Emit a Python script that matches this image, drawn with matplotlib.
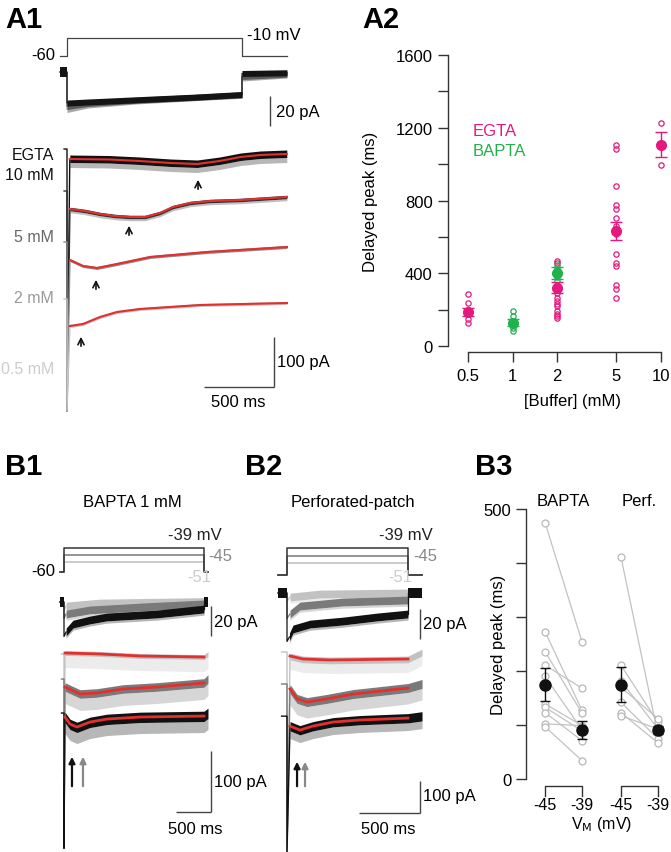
import numpy as np
import matplotlib
matplotlib.use('Agg')
import matplotlib.pyplot as plt

plt.rcParams['font.family'] = ['Liberation Sans', 'DejaVu Sans']
plt.rcParams['font.size'] = 12
plt.rcParams['axes.unicode_minus'] = False

# ---------------- data ----------------
# A1 voltage protocol (mV, ms)
a1_hold_mv = -60
a1_step_mv = -10
a1_step_ms = 1250

# A1 top: raw currents during the step (pA from holding)
a1_raw_t = [0, 150, 500, 900, 1250]
a1_raw_black = [-20.7, -20.0, -18.5, -16.8, -15.0]
a1_raw_gray = [-23.0, -21.0, -18.8, -17.0, -15.2]
a1_raw_light = [-25.0, -22.0, -19.3, -17.2, -15.5]
a1_tail_t = [1250, 1571]
a1_tail_black = [-1.0, -0.5]
a1_tail_gray = [-3.0, -1.5]
a1_tail_light = [-4.0, -2.0]

# A1 bottom: fitted currents (pA, relative to onset) for each EGTA concentration
egta10_t = [20, 300, 520, 740, 930, 1090, 1240, 1380, 1570]
egta10_fit = [0, -1, -4, -8, -10, -4, 4, 8, 10]
egta5_t = [21, 129, 236, 343, 450, 557, 664, 757, 879, 1021, 1236, 1571]
egta5_fit = [0, -4, -10, -14, -16, -16, -8, 4, 12, 16, 18, 24]
egta2_t = [21, 114, 214, 357, 593, 1000, 1571]
egta2_fit = [0, -12, -16, -8, 6, 16, 26]
egta05_t = [21, 114, 236, 357, 521, 950, 1571]
egta05_fit = [0, 4, 18, 28, 34, 42, 46]
egta_labels = ['10 mM', '5 mM', '2 mM', '0.5 mM']
egta_hold = [20, 36, 36, 54]          # holding level before the step
egta_cap = [-504, -404, -302, -170]   # capacitive transient peak
egta_peak_ms = [936, 443, 207, 100]   # delayed peak (arrows)

# A2: delayed peak vs buffer concentration
egta_conc = [0.5, 2, 5, 10]
egta_mean = [187, 321, 633, 1107]
egta_sem = [20, 30, 50, 67]
egta05_pts = [284, 235, 190, 175, 150, 128]
egta2_pts = [468, 455, 294, 266, 248, 230, 220, 193, 175, 165, 156]
egta5_pts = [1105, 1083, 881, 774, 752, 706, 660, 615, 505, 459, 440, 334, 312, 266]
egta10_pts = [1226, 996]
bapta_conc = [1, 2]
bapta_mean = [128, 400]
bapta_sem = [18, 32]
bapta1_pts = [193, 165, 138, 119, 101, 83]
bapta2_pts = [445, 425, 405, 380, 360]

# B1/B2 step potentials
b_steps_mv = [-39, -45, -51]
b1_step_ms = 2000
b2_step_ms = 1000

# B1 top: raw currents (pA)
b1_black_t = [30, 130, 370, 610, 1330, 2000]
b1_black = [-20, -14.7, -12, -10, -8, -4.7]
b1_gray_t = [30, 370, 1230, 2000]
b1_gray = [-8, -5.3, -3, -1.3]
b1_light_t = [30, 510, 2000]
b1_light = [-2.7, -0.7, 0.3]

# B1 bottom: fits (pA relative to onset), light (-51), gray (-45), black (-39)
b1_fit51_t = [14, 514, 1086, 2000]
b1_fit51 = [0, -1.6, -4.9, -6.6]
b1_fit45_t = [14, 229, 471, 843, 1329, 2000]
b1_fit45 = [0, -11.5, -9.8, -3.3, 0, 6.6]
b1_fit39_t = [14, 86, 186, 371, 614, 1086, 2000]
b1_fit39 = [0, -11.5, -16.4, -8.2, -3.3, 0, 1.6]
b1_hold = [-1.6, 13, 6.6]
b1_cap = [-320, -265, -215]
b1_peak_ms = [114, 271]

# B2 top: raw currents (pA)
b2_black_t = [20, 50, 190, 463, 744, 1000]
b2_black = [-29.3, -24, -20.7, -18.7, -16, -14]
b2_gray_t = [25, 107, 463, 1000]
b2_gray = [-14, -8.7, -6, -4.7]
b2_light_t = [25, 273, 1000]
b2_light = [-2.7, -0.7, 0]

# B2 bottom: fits
b2_fit51_t = [25, 132, 355, 1000]
b2_fit51 = [0, -9.4, -12.5, -9.4]
b2_fit45_t = [25, 83, 165, 331, 545, 1000]
b2_fit45 = [0, -31, -41, -31, -16, 3]
b2_fit39_t = [25, 107, 215, 380, 603, 1000]
b2_fit39 = [0, -12.5, 0, 12.5, 19, 25]
b2_hold = [12.5, 15.6, 31]
b2_cap = [-612, -509, -394]
b2_peak_ms = [83, 149]

# B3: paired delayed peaks (ms) at -45 and -39 mV
bapta_m45 = [475, 273, 236, 211, 190, 139, 133, 123, 102, 97]
bapta_m39 = [254, 127, 122, 168, 91, 99, 89, 71, 99, 34]
perf_m45 = [412, 211, 182, 170, 142, 123, 117]
perf_m39 = [83, 105, 93, 112, 75, 67, 93]
b3_mean_bapta = [175, 91]
b3_sem_bapta = [30, 16]
b3_mean_perf = [175, 91]
b3_sem_perf = [33, 8]

# ---------------- styles ----------------
EGTA_C = '#e5197d'
BAPTA_C = '#20b14c'
FIT_C = '#e2302f'
BAR_C = '#444444'
TRACE_C = ['#c2c2c2', '#7a7a7a', '#111111']   # -51, -45, -39
VCMD_C = ['#bdbdbd', '#777777', '#333333']

W, H = 671, 853
fig = plt.figure(figsize=(W / 100, H / 100), dpi=100)


def px_axes(box, x_px, x_val, x_scale, y_px, y_val, y_scale):
    # invisible axes over a pixel box; scales are pixels per data unit
    left, top, right, bottom = box
    ax = fig.add_axes([left / W, 1 - bottom / H, (right - left) / W, (bottom - top) / H])
    ax.set_xlim(x_val + (left - x_px) / x_scale, x_val + (right - x_px) / x_scale)
    ax.set_ylim(y_val - (bottom - y_px) / y_scale, y_val - (top - y_px) / y_scale)
    ax.set_axis_off()
    ax.patch.set_visible(False)
    return ax


def ftext(x, y, s, **kw):
    kw.setdefault('va', 'center')
    fig.text(x / W, 1 - y / H, s, **kw)


def band(ax, t, y, up, down, color, spike=0, z=2, off=0):
    y = np.asarray(y, float) + off
    ax.fill_between(t, y - down, y + up, color=color, lw=0, zorder=z)
    if spike:
        ax.fill_between(t, y - down - spike, y - down, color=color, alpha=0.3, lw=0, zorder=z)


def vbar(ax, x, y0, y1):
    ax.plot([x, x], [y0, y1], color=BAR_C, lw=1.0, solid_capstyle='butt')


# panel letters
for lab, x, y in [('A1', 5, 20), ('A2', 362, 20), ('B1', 5, 467), ('B2', 245, 467), ('B3', 475, 467)]:
    ftext(x, y, lab, fontsize=21, fontweight='bold')

# ================= A1 =================
axv = px_axes((40, 28, 300, 66), 67, 0, 0.14, 57, -60, 0.36)
axv.plot([-50, 0, 0, a1_step_ms, a1_step_ms, 1571],
         [a1_hold_mv, a1_hold_mv, a1_step_mv, a1_step_mv, a1_hold_mv, a1_hold_mv],
         color='#444444', lw=0.9)
ftext(55, 56, '-60', ha='right')
ftext(247, 35, '-10 mV', ha='left')

axi = px_axes((40, 60, 300, 140), 67, 0, 0.14, 73, 0, 1.5)
for raw, tail, c in [(a1_raw_light, a1_tail_light, '#a8a8a8'),
                     (a1_raw_gray, a1_tail_gray, '#5a5a5a'),
                     (a1_raw_black, a1_tail_black, '#141414')]:
    axi.plot([-50, 0] + a1_raw_t + a1_tail_t, [0, 0] + raw + tail, color=c, lw=0.8)
    band(axi, a1_raw_t, raw, 2.0, 2.0, c)
    band(axi, a1_tail_t, tail, 2.0, 2.0, c)
band(axi, [-50, 0], [0, 0], 3.3, 3.3, '#141414')
vbar(axi, 1450, -16, -36)
ftext(276, 113, '20 pA', ha='left')

axl = px_axes((40, 140, 300, 418), 67, 0, 0.14, 160, 0, 0.5)
a1_t = [egta10_t, egta5_t, egta2_t, egta05_t]
a1_fit = [egta10_fit, egta5_fit, egta2_fit, egta05_fit]
a1_off = [0, -100, -202, -334]
a1_col = ['#111111', '#333333', '#8a8a8a', '#c4c4c4']
a1_lab_col = ['#111111', '#666666', '#9a9a9a', '#cccccc']
a1_noise = [(8, 7, 10), (3.5, 3.5, 4), (3, 3, 0), (3, 3, 0)]
for i in range(4):
    o = a1_off[i]
    axl.plot([-21, 0, 0, a1_t[i][0]], [egta_hold[i] + o, egta_hold[i] + o, egta_cap[i] + o, o],
             color=a1_col[i], lw=1.0, zorder=1 + i * 0.1)
for i in range(4):
    up, dn, sp = a1_noise[i]
    band(axl, a1_t[i], a1_fit[i], up, dn, a1_col[i], spike=sp, z=2, off=a1_off[i])
    axl.plot(a1_t[i], np.asarray(a1_fit[i]) + a1_off[i], color=FIT_C, lw=1.5, zorder=3)
a1_arrow_tip = [-36, -128, -236, -350]
for i in range(4):
    axl.annotate('', xy=(egta_peak_ms[i], a1_arrow_tip[i]), xytext=(egta_peak_ms[i], a1_arrow_tip[i] - 30),
                 arrowprops=dict(arrowstyle='->', color='#111111', lw=1.2, mutation_scale=11))
vbar(axl, 1479, -356, -456)
axl.plot([979, 1479], [-456, -456], color=BAR_C, lw=1.0, solid_capstyle='butt')
ftext(277, 362, '100 pA', ha='left')
ftext(238, 403, '500 ms', ha='center')
ftext(54, 156, 'EGTA', ha='right', color=a1_lab_col[0], fontsize=11.5)
for lab, y, c in zip(egta_labels, [176, 237, 299, 370], a1_lab_col):
    ftext(54, y, lab, ha='right', color=c, fontsize=11.5)

# ================= A2 =================
ax2 = fig.add_axes([448 / W, 1 - 347 / H, (667 - 448) / W, (347 - 56) / H])
ax2.patch.set_visible(False)
ax2.set_xscale('log')
ax2.set_xlim(0.366, 11)
ax2.set_ylim(0, 1600)
for c, pts in zip(egta_conc, [egta05_pts, egta2_pts, egta5_pts, egta10_pts]):
    ax2.plot([c] * len(pts), pts, 'o', ms=3.8, mfc='none', mec=EGTA_C, mew=0.9, clip_on=False)
for c, pts in zip(bapta_conc, [bapta1_pts, bapta2_pts]):
    ax2.plot([c] * len(pts), pts, 'o', ms=3.8, mfc='none', mec=BAPTA_C, mew=0.9, clip_on=False)
ax2.errorbar(egta_conc, egta_mean, yerr=egta_sem, fmt='o', ms=7, color=EGTA_C,
             capsize=4, elinewidth=1, capthick=1, clip_on=False)
ax2.errorbar(bapta_conc, bapta_mean, yerr=bapta_sem, fmt='o', ms=7, color=BAPTA_C,
             capsize=4, elinewidth=1, capthick=1, clip_on=False)
for s in ['top', 'right']:
    ax2.spines[s].set_visible(False)
for s in ['left', 'bottom']:
    ax2.spines[s].set_color('#333333')
    ax2.spines[s].set_linewidth(1.0)
ax2.spines['bottom'].set_position(('outward', 4.3))
ax2.spines['bottom'].set_bounds(0.5, 10)
ax2.set_xticks([0.5, 1, 2, 5, 10])
ax2.set_xticklabels(['0.5', '1', '2', '5', '10'])
ax2.xaxis.set_minor_locator(matplotlib.ticker.NullLocator())
ax2.set_yticks([0, 400, 800, 1200, 1600])
ax2.set_yticks([200, 600, 1000, 1400], minor=True)
ax2.tick_params(which='both', direction='out', length=7.5, width=1.0, color='#333333', labelsize=12)
ax2.tick_params(axis='y', pad=3.5)
ax2.tick_params(axis='x', pad=4)
ax2.set_ylabel('Delayed peak (ms)', va='center')
ax2.yaxis.set_label_coords((370 - 448) / 219, 0.5)
ax2.set_xlabel('[Buffer] (mM)', va='center')
ax2.xaxis.set_label_coords((572 - 448) / 219, (347 - 402) / 291)
ftext(473, 131, 'EGTA', ha='left', color=EGTA_C)
ftext(473, 151, 'BAPTA', ha='left', color=BAPTA_C)


# ================= B1 / B2 =================
def b_panel(x_on, t_scale, v_base_px, v_scale, i_base_px, l_base_px, l_scale, step_ms,
            t_pre, t_post, raws, fits, hold, cap, peaks, arrow_px, bars, title, title_x):
    box_l, box_r = x_on - 30, x_on + 175
    axv = px_axes((box_l, 525, box_r, 585), x_on, 0, t_scale, v_base_px, -60, v_scale)
    for v, c in zip(b_steps_mv[::-1], VCMD_C):
        axv.plot([t_pre, 0, 0, step_ms, step_ms, t_post], [-60, -60, v, v, -60, -60],
                 color=c, lw=1.1, zorder=1 if c != VCMD_C[-1] else 2)
    axi = px_axes((box_l, 580, box_r, 650), x_on, 0, t_scale, i_base_px, 0, 1.5)
    for (t, y), c in zip(raws, TRACE_C):
        axi.plot([t_pre, 0, 0, t[0]], [0, 0, y[0] - 3, y[0]], color=c, lw=0.9)
        band(axi, t, y, 2.6, 2.6, c, spike=1.5)
        axi.plot([t[-1], step_ms, step_ms], [y[-1], y[-1], 0], color=c, lw=0.9)
    band(axi, [t_pre, 0], [0, 0], 3.3, 3.3, '#111111')
    band(axi, [step_ms, t_post], [0, 0], 3.3, 3.3, '#111111')
    axl = px_axes((box_l, 640, box_r, 853), x_on, 0, t_scale, l_base_px, 0, l_scale)
    offs = bars['offs']
    for i, ((t, y), c) in enumerate(zip(fits, TRACE_C)):
        o = offs[i]
        axl.plot([t_pre * 0.6, 0, 0, t[0]], [hold[i] + o, hold[i] + o, cap[i] + o, o],
                 color=c, lw=1.0, zorder=1)
    for i, ((t, y), c) in enumerate(zip(fits, TRACE_C)):
        o = offs[i]
        up, dn, sp = bars['noise'][i]
        tt = list(t) + [t_post]
        yy = list(y) + [hold[i]]
        band(axl, tt, yy, up, dn, c, spike=sp, off=o)
        axl.plot(t, np.asarray(y) + o, color=FIT_C, lw=2.0, zorder=3)
    tip = -(arrow_px[0] - l_base_px) / l_scale
    tail = -(arrow_px[1] - l_base_px) / l_scale
    for tp, c in zip(peaks, ['#111111', '#888888']):
        axl.annotate('', xy=(tp, tip), xytext=(tp, tail),
                     arrowprops=dict(arrowstyle='-|>', color=c, lw=1.6, mutation_scale=9))
    tb = bars['t']
    vbar(axi, tb, bars['i20'], bars['i20'] - 20)
    vbar(axl, tb, bars['i100'], bars['i100'] - 100)
    axl.plot([tb - 500, tb], [bars['i100'] - 100] * 2, color=BAR_C, lw=1.0, solid_capstyle='butt')
    ftext(title_x, 503, title, ha='center')


b_panel(64, 0.07, 573, 24 / 21, 603, 654, 0.61, b1_step_ms, -60, 2057,
        [(b1_light_t, b1_light), (b1_gray_t, b1_gray), (b1_black_t, b1_black)],
        [(b1_fit51_t, b1_fit51), (b1_fit45_t, b1_fit45), (b1_fit39_t, b1_fit39)],
        b1_hold, b1_cap, b1_peak_ms, (755, 790),
        dict(t=2100, i20=-2.7, i100=-160.7, offs=[0, -55.7, -105],
             noise=[(4, 4, 20), (7, 7, 20), (8, 9, 18)]),
        'BAPTA 1 mM', 132)
ftext(55, 572, '-60', ha='right')
ftext(222, 535, '-39 mV', ha='right', color='#222222')
ftext(208, 557, '-45', ha='left', color='#888888')
ftext(187, 577, '-51', ha='left', color='#cccccc')
ftext(214, 623, '20 pA', ha='left')
ftext(214, 783, '100 pA', ha='left')
ftext(195, 830, '500 ms', ha='center')

b_panel(287, 0.121, 576, 27 / 21, 594, 657, 0.32, b2_step_ms, -74, 1116,
        [(b2_light_t, b2_light), (b2_gray_t, b2_gray), (b2_black_t, b2_black)],
        [(b2_fit51_t, b2_fit51), (b2_fit45_t, b2_fit45), (b2_fit39_t, b2_fit39)],
        b2_hold, b2_cap, b2_peak_ms, (760, 790),
        dict(t=1099, i20=-10.7, i100=-390.6, offs=[0, -103, -219],
             noise=[(9, 12, 30), (14, 14, 36), (14, 15, 24)]),
        'Perforated-patch', 353)
ftext(433, 535, '-39 mV', ha='right', color='#222222')
ftext(413, 557, '-45', ha='left', color='#888888')
ftext(388, 577, '-51', ha='left', color='#cccccc')
ftext(423, 625, '20 pA', ha='left')
ftext(423, 797, '100 pA', ha='left')
ftext(388, 830, '500 ms', ha='center')

# ================= B3 =================
ax3 = fig.add_axes([526 / W, 1 - 780 / H, (671 - 526) / W, (780 - 510) / H])
ax3.patch.set_visible(False)
ax3.set_xlim(-0.514, 3.405)
ax3.set_ylim(0, 500)
xpos = [0, 1, 2.05, 3.05]
for (a, b), (x0, x1) in [((bapta_m45, bapta_m39), (xpos[0], xpos[1])), ((perf_m45, perf_m39), (xpos[2], xpos[3]))]:
    for v0, v1 in zip(a, b):
        ax3.plot([x0, x1], [v0, v1], '-o', color='#c2c2c2', lw=0.9, ms=5, mfc='white',
                 mec='#b8b8b8', mew=0.9, zorder=2)
ax3.errorbar(xpos[:2], b3_mean_bapta, yerr=b3_sem_bapta, fmt='o', ms=8, color='#111111',
             capsize=3.5, elinewidth=1, capthick=1, zorder=4)
ax3.errorbar(xpos[2:], b3_mean_perf, yerr=b3_sem_perf, fmt='o', ms=8, color='#111111',
             capsize=3.5, elinewidth=1, capthick=1, zorder=4)
for s in ['top', 'right', 'bottom']:
    ax3.spines[s].set_visible(False)
ax3.spines['left'].set_color('#333333')
ax3.spines['left'].set_linewidth(1.0)
ax3.set_xticks([])
ax3.set_yticks([0, 100, 200, 300, 400, 500])
ax3.set_yticklabels(['0', '', '', '', '', '500'])
ax3.tick_params(axis='y', direction='out', length=7.5, width=1.0, color='#333333', pad=3, labelsize=12)
ax3.set_ylabel('Delayed peak (ms)', va='center')
ax3.yaxis.set_label_coords((498 - 526) / 145, 0.5)


def py(px):
    return -(px - 780) * 500 / 270


for x0, x1 in [(xpos[0], xpos[1]), (xpos[2], xpos[3])]:
    ax3.plot([x0, x0, x1, x1], [py(797), py(787), py(787), py(797)], color='#333333',
             lw=1.0, clip_on=False)
    ax3.text(x0, py(806), '-45', ha='center', va='center', fontsize=11.5)
    ax3.text(x1, py(806), '-39', ha='center', va='center', fontsize=11.5)
ftext(602, 825, 'V$_\\mathrm{M}$ (mV)', ha='center', fontsize=11.5)
ftext(563, 502, 'BAPTA', ha='center')
ftext(639, 502, 'Perf.', ha='center')

fig.savefig('out.png', dpi=100)
